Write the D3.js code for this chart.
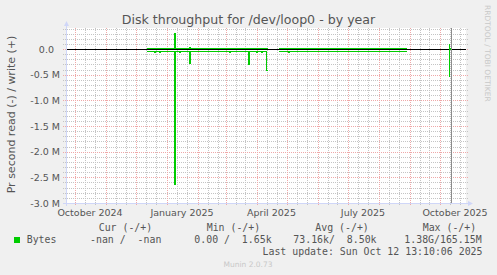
<!DOCTYPE html>
<html>
<head>
<meta charset="utf-8">
<script src="https://cdn.jsdelivr.net/npm/d3@7"></script>
<style>
  body { margin: 0; background: #f0f0f0; }
  svg text { font-family: "DejaVu Sans", sans-serif; fill: #555; }
  svg .mono { font-family: "DejaVu Sans Mono", monospace; white-space: pre; }
</style>
</head>
<body>
<div id="chart"></div>
<script>
// daily samples (step series), null = no data
var stepDates = ["2024-12-12", "2024-12-20", "2024-12-21", "2024-12-25", "2024-12-26",
  "2025-01-09", "2025-01-10", "2025-01-14", "2025-01-15", "2025-01-24", "2025-01-25",
  "2025-03-05", "2025-03-06", "2025-03-24", "2025-03-25", "2025-04-01", "2025-04-02",
  "2025-04-06", "2025-04-07", "2025-04-11", "2025-04-12", "2025-04-13",
  "2025-04-23", "2025-05-03", "2025-05-04", "2025-05-07", "2025-08-29", "2025-08-30",
  "2025-10-10", "2025-10-11", "2025-10-13", "2025-10-14"];
var writeBytes = [10500, 10500, 10500, 10500, 10500,
  310000, 10500, 10500, 10500, 30000, 10500,
  10500, 10500, 10500, 10500, 10500, 10500,
  10500, 10500, 10500, 10500, null,
  10500, 10500, 10500, 10500, 10500, null,
  90000, 3000, 3000, null];
var readBytes = [48000, 67000, 48000, 67000, 48000,
  2630000, 48000, 67000, 48000, 280000, 48000,
  67000, 48000, 300000, 48000, 67000, 48000,
  67000, 48000, 420000, 420000, null,
  48000, 67000, 48000, 48000, 48000, null,
  530000, 10000, 10000, null];

var yTicks = [0, -0.5e6, -1.0e6, -1.5e6, -2.0e6, -2.5e6, -3.0e6];
var xLabelMonths = ["2024-10-01", "2025-01-01", "2025-04-01", "2025-07-01", "2025-10-01"];
var legendHeads = ["Cur (-/+)", "Min (-/+)", "Avg (-/+)", "Max (-/+)"];
var legendValues = ["-nan /  -nan", "0.00 /  1.65k", "73.16k/  8.50k", "1.38G/165.15M"];
var seriesName = "Bytes";
var lastUpdate = "Last update: Sun Oct 12 13:10:06 2025";
var nowTime = "2025-10-12T13:10:06Z";

var parse = d3.utcParse("%Y-%m-%d");
var green = "#00cc00";

var svg = d3.select("#chart")
  .append("svg")
  .attr("width", 497)
  .attr("height", 275);

var xScale = d3.scaleUtc()
  .domain([new Date(Date.UTC(2024, 8, 22, 12)), new Date(Date.UTC(2025, 9, 27, 12))])
  .range([66, 466]);

var yScale = d3.scaleLinear()
  .domain([-3.0e6, 0.41e6])
  .range([203, 28]);

var x0 = xScale.range()[0], x1 = xScale.range()[1];
var y0 = yScale.range()[0], y1 = yScale.range()[1];

// canvas
svg.append("rect")
  .attr("x", x0).attr("y", y1)
  .attr("width", x1 - x0).attr("height", y0 - y1)
  .attr("fill", "#ffffff");

// grid
var minorY = d3.range(-30, 5).map(k => k * 1e5).filter(v => v % 5e5 !== 0);
var majorY = d3.range(-30, 5, 5).map(k => k * 1e5);
var grid = svg.append("g").attr("stroke-dasharray", "1,1").attr("stroke-width", 1);

grid.selectAll(".hmin").data(minorY).enter().append("line")
  .attr("x1", x0 - 3).attr("x2", x1 + 3)
  .attr("y1", d => Math.round(yScale(d)) + 0.5).attr("y2", d => Math.round(yScale(d)) + 0.5)
  .attr("stroke", "#c4c4c4");

var days = d3.utcDay.range(xScale.domain()[0], xScale.domain()[1])
  .filter(d => d.getUTCDate() === 11 || d.getUTCDate() === 21);
grid.selectAll(".vmin").data(days).enter().append("line")
  .attr("y1", y1).attr("y2", y0 + 3)
  .attr("x1", d => Math.round(xScale(d)) + 0.5).attr("x2", d => Math.round(xScale(d)) + 0.5)
  .attr("stroke", "#c4c4c4");

grid.selectAll(".hmaj").data(majorY).enter().append("line")
  .attr("x1", x0 - 3).attr("x2", x1 + 3)
  .attr("y1", d => Math.round(yScale(d)) + 0.5).attr("y2", d => Math.round(yScale(d)) + 0.5)
  .attr("stroke", "#efa8a8");

var months = d3.utcMonth.range(xScale.domain()[0], xScale.domain()[1]);
grid.selectAll(".vmaj").data(months).enter().append("line")
  .attr("y1", y1).attr("y2", y0 + 3)
  .attr("x1", d => Math.round(xScale(d)) + 0.5).attr("x2", d => Math.round(xScale(d)) + 0.5)
  .attr("stroke", "#efa8a8");

// zero rule
svg.append("line")
  .attr("x1", x0).attr("x2", x1)
  .attr("y1", Math.round(yScale(0)) + 0.5).attr("y2", Math.round(yScale(0)) + 0.5)
  .attr("stroke", "#000");

// data lines
var line = d3.line()
  .defined(d => d.v != null)
  .x(d => xScale(d.t))
  .y(d => yScale(d.v))
  .curve(d3.curveStepAfter);

var writeData = stepDates.map((s, i) => ({ t: parse(s), v: writeBytes[i] }));
var readData = stepDates.map((s, i) => ({ t: parse(s), v: readBytes[i] == null ? null : -readBytes[i] }));

[readData, writeData].forEach(function(series) {
  svg.append("path")
    .datum(series)
    .attr("d", line)
    .attr("fill", "none")
    .attr("stroke", green)
    .attr("stroke-width", 1)
    .attr("shape-rendering", "crispEdges");
});

// now marker
var nowX = Math.round(xScale(new Date(nowTime))) + 0.5;
svg.append("line")
  .attr("x1", nowX).attr("x2", nowX)
  .attr("y1", y1).attr("y2", y0)
  .attr("stroke", "#8c8c8c");

// axes
var axisColor = "#cfd6f8";
svg.append("line")
  .attr("x1", x0 + 0.5).attr("x2", x0 + 0.5)
  .attr("y1", y0 + 3).attr("y2", y1 - 4)
  .attr("stroke", axisColor);
svg.append("path")
  .attr("d", "M" + (x0 - 2) + "," + (y1 - 2) + "L" + (x0 + 3) + "," + (y1 - 2) + "L" + (x0 + 0.5) + "," + (y1 - 7) + "Z")
  .attr("fill", axisColor);
svg.append("line")
  .attr("x1", x0 - 3).attr("x2", x1 + 3)
  .attr("y1", y0 + 0.5).attr("y2", y0 + 0.5)
  .attr("stroke", axisColor);
svg.append("path")
  .attr("d", "M" + (x1 + 2) + "," + (y0 - 2) + "L" + (x1 + 2) + "," + (y0 + 3) + "L" + (x1 + 7) + "," + (y0 + 0.5) + "Z")
  .attr("fill", axisColor);

// y tick labels
var yAxis = svg.append("g")
  .attr("transform", "translate(" + x0 + ",0)")
  .call(d3.axisLeft(yScale)
    .tickValues(yTicks)
    .tickSize(0)
    .tickPadding(6)
    .tickFormat(d => d === 0 ? "0.0\u2007" : (d / 1e6).toFixed(1) + " M"));
yAxis.select(".domain").remove();
yAxis.selectAll("text")
  .style("font-family", "DejaVu Sans, sans-serif")
  .style("font-size", "9.5px")
  .attr("fill", "#555");

// x labels, centred on the month
svg.selectAll(".xlab").data(xLabelMonths).enter().append("text")
  .attr("x", function(s) {
    var m = parse(s);
    return (xScale(m) + xScale(d3.utcMonth.offset(m, 1))) / 2;
  })
  .attr("y", 216)
  .attr("text-anchor", "middle")
  .style("font-size", "9.5px")
  .text(s => d3.utcFormat("%B %Y")(parse(s)));

// title
svg.append("text")
  .attr("x", 248.5).attr("y", 23.8)
  .attr("text-anchor", "middle")
  .style("font-size", "12.6px")
  .text("Disk throughput for /dev/loop0 - by year");

// vertical label
svg.append("text")
  .attr("transform", "translate(14.5," + ((y0 + y1) / 2 - 1) + ") rotate(-90)")
  .attr("text-anchor", "middle")
  .style("font-size", "11px")
  .text("Pr second read (-) / write (+)");

// watermark
svg.append("text")
  .attr("transform", "translate(485,5) rotate(90)")
  .style("font-size", "7.5px")
  .style("fill", "#c8c8c8")
  .text("RRDTOOL / TOBI OETIKER");

// legend
var headX = [98.7, 206.7, 315.3, 422.7];
var valX = [90, 194.3, 293.3, 404.3];
svg.selectAll(".lh").data(legendHeads).enter().append("text")
  .attr("class", "mono")
  .attr("x", (d, i) => headX[i]).attr("y", 231)
  .style("font-size", "9.9px")
  .text(d => d);

svg.append("rect")
  .attr("x", 14).attr("y", 237)
  .attr("width", 6).attr("height", 6)
  .attr("fill", green);
svg.append("text")
  .attr("class", "mono")
  .attr("x", 26.7).attr("y", 243)
  .style("font-size", "9.9px")
  .text(seriesName);
svg.selectAll(".lv").data(legendValues).enter().append("text")
  .attr("class", "mono")
  .attr("x", (d, i) => valX[i]).attr("y", 243)
  .style("font-size", "9.9px")
  .text(d => d);

svg.append("text")
  .attr("class", "mono")
  .attr("x", 482.5).attr("y", 255.3)
  .attr("text-anchor", "end")
  .style("font-size", "9.9px")
  .text(lastUpdate);

svg.append("text")
  .attr("x", 248).attr("y", 266.5)
  .attr("text-anchor", "middle")
  .style("font-size", "7.5px")
  .style("fill", "#c8c8c8")
  .text("Munin 2.0.73");
</script>
</body>
</html>
